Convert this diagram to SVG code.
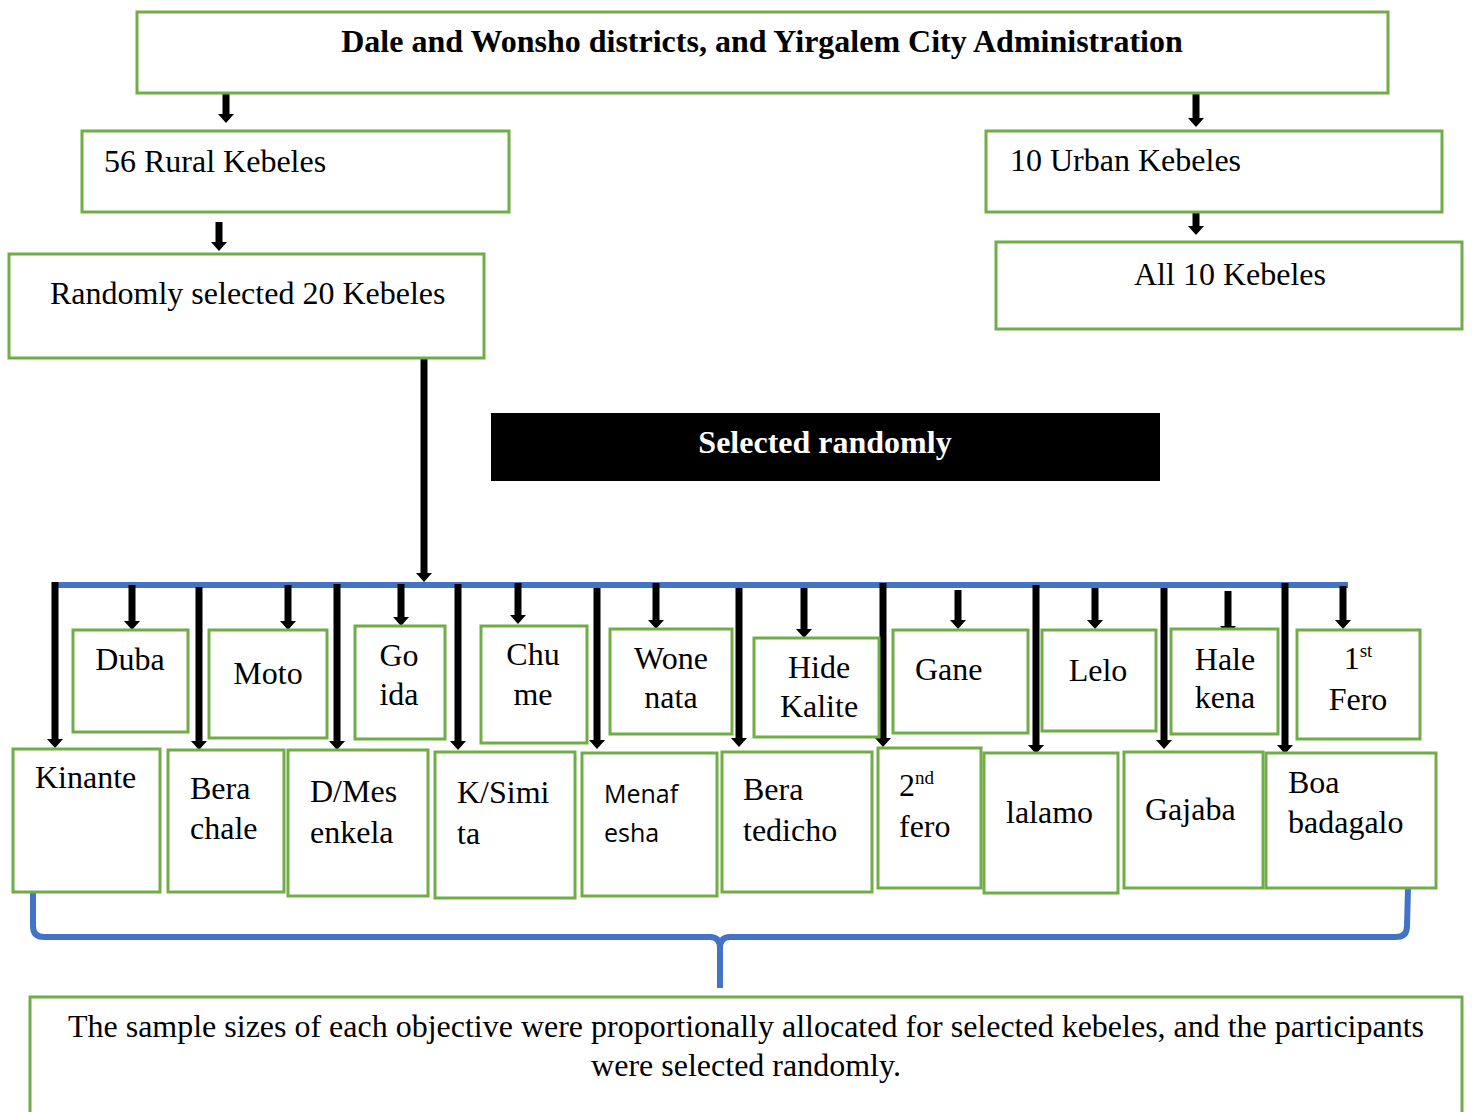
<svg xmlns="http://www.w3.org/2000/svg" width="1472" height="1112" viewBox="0 0 1472 1112">
<defs>
<marker id="ah" viewBox="0 -8 9 16" refX="0" refY="0" markerWidth="9" markerHeight="16" markerUnits="userSpaceOnUse" orient="auto">
<path d="M0,-8 L9,0 L0,8 Z" fill="#000"/>
</marker>
<style>
.box{fill:#fff;stroke:#70AD47;stroke-width:3}
.t{font-family:"Liberation Serif","Times New Roman",serif;font-size:32px;fill:#000}
.tb{font-family:"Liberation Serif","Times New Roman",serif;font-size:32px;font-weight:bold}
.s{font-family:"Open Sans","Noto Sans",sans-serif;font-size:25px;fill:#000}
.c{text-anchor:middle}
.ar{stroke:#000;stroke-width:7;fill:none;marker-end:url(#ah)}
.blue{stroke:#4472C4;fill:none}
</style>
</defs>
<rect width="1472" height="1112" fill="#fff"/>

<g id="connectors">
<line class="ar" x1="226" y1="93" x2="226" y2="114"/>
<line class="ar" x1="1196" y1="93" x2="1196" y2="118"/>
<line class="ar" x1="219" y1="222" x2="219" y2="242"/>
<line class="ar" x1="1196" y1="212" x2="1196" y2="226"/>
<line class="ar" x1="424" y1="357" x2="424" y2="573"/>
<line class="blue" x1="52" y1="585" x2="1348" y2="585" stroke-width="6"/>
<line class="ar" x1="55" y1="582" x2="55" y2="739"/>
<line class="ar" x1="199" y1="587" x2="199" y2="741"/>
<line class="ar" x1="337" y1="584" x2="337" y2="741"/>
<line class="ar" x1="458" y1="584" x2="458" y2="741"/>
<line class="ar" x1="597" y1="588" x2="597" y2="740"/>
<line class="ar" x1="739" y1="588" x2="739" y2="738"/>
<line class="ar" x1="883" y1="583" x2="883" y2="738"/>
<line class="ar" x1="1036" y1="585" x2="1036" y2="745"/>
<line class="ar" x1="1164" y1="588" x2="1164" y2="740"/>
<line class="ar" x1="1285" y1="583" x2="1285" y2="745"/>
<line class="ar" x1="132" y1="585" x2="132" y2="621"/>
<line class="ar" x1="288" y1="585" x2="288" y2="621"/>
<line class="ar" x1="401" y1="584" x2="401" y2="617"/>
<line class="ar" x1="518" y1="583" x2="518" y2="615"/>
<line class="ar" x1="656" y1="583" x2="656" y2="620"/>
<line class="ar" x1="804" y1="588" x2="804" y2="629"/>
<line class="ar" x1="958" y1="590" x2="958" y2="620"/>
<line class="ar" x1="1095" y1="588" x2="1095" y2="620"/>
<line class="ar" x1="1228" y1="591" x2="1228" y2="626"/>
<line class="ar" x1="1343" y1="586" x2="1343" y2="620"/>
<path class="blue" stroke-width="6" d="M33,890 L33,926 Q33,937 44,937 L710,937 Q720,937 720,948 L720,988 M720,988 L720,948 Q720,937 730,937 L1396,937 Q1407,937 1407,926 L1408,888"/>
</g>

<g id="top">
<rect class="box" x="137" y="12" width="1251" height="81"/>
<text class="tb c" x="762" y="52">Dale and Wonsho districts, and Yirgalem City Administration</text>
</g>
<g id="rural">
<rect class="box" x="82" y="131" width="427" height="81"/>
<text class="t" x="104" y="172">56 Rural Kebeles</text>
</g>
<g id="random20">
<rect class="box" x="9" y="254" width="475" height="104"/>
<text class="t" x="50" y="304">Randomly selected 20 Kebeles</text>
</g>
<g id="urban">
<rect class="box" x="986" y="131" width="456" height="81"/>
<text class="t" x="1010" y="171">10 Urban Kebeles</text>
</g>
<g id="all10">
<rect class="box" x="996" y="242" width="466" height="87"/>
<text class="t" x="1134" y="285">All 10 Kebeles</text>
</g>
<g id="selected">
<rect x="491" y="413" width="669" height="68" fill="#000"/>
<text class="tb c" x="825" y="453" fill="#fff">Selected randomly</text>
</g>

<g id="duba"><rect class="box" x="73" y="630" width="115" height="102"/><text class="t c" x="130" y="670">Duba</text></g>
<g id="moto"><rect class="box" x="209" y="630" width="118" height="108"/><text class="t c" x="268" y="684">Moto</text></g>
<g id="goida"><rect class="box" x="355" y="626" width="90" height="113"/><text class="t c" x="399" y="666">Go</text><text class="t c" x="399" y="705">ida</text></g>
<g id="chume"><rect class="box" x="481" y="626" width="106" height="117"/><text class="t c" x="533" y="665">Chu</text><text class="t c" x="533" y="705">me</text></g>
<g id="wonenata"><rect class="box" x="610" y="629" width="122" height="105"/><text class="t c" x="671" y="669">Wone</text><text class="t c" x="671" y="708">nata</text></g>
<g id="hidekalite"><rect class="box" x="754" y="638" width="125" height="99"/><text class="t c" x="819" y="678">Hide</text><text class="t c" x="819" y="717">Kalite</text></g>
<g id="gane"><rect class="box" x="893" y="630" width="135" height="103"/><text class="t" x="915" y="680">Gane</text></g>
<g id="lelo"><rect class="box" x="1042" y="630" width="114" height="101"/><text class="t c" x="1098" y="681">Lelo</text></g>
<g id="halekena"><rect class="box" x="1171" y="629" width="107" height="105"/><text class="t c" x="1225" y="670">Hale</text><text class="t c" x="1225" y="708">kena</text></g>
<g id="firstfero"><rect class="box" x="1297" y="630" width="123" height="109"/><text class="t c" x="1358" y="669">1<tspan font-size="19" dy="-12">st</tspan></text><text class="t c" x="1358" y="710">Fero</text></g>

<g id="kinante"><rect class="box" x="13" y="749" width="147" height="143"/><text class="t" x="35" y="788">Kinante</text></g>
<g id="berachale"><rect class="box" x="168" y="750" width="116" height="142"/><text class="t" x="190" y="799">Bera</text><text class="t" x="190" y="839">chale</text></g>
<g id="dmesenkela"><rect class="box" x="288" y="750" width="140" height="146"/><text class="t" x="310" y="802">D/Mes</text><text class="t" x="310" y="843">enkela</text></g>
<g id="ksimita"><rect class="box" x="435" y="752" width="140" height="146"/><text class="t" x="457" y="803">K/Simi</text><text class="t" x="457" y="844">ta</text></g>
<g id="menafesha"><rect class="box" x="582" y="753" width="135" height="143"/><text class="s" x="604" y="803">Menaf</text><text class="s" x="604" y="842">esha</text></g>
<g id="beratedicho"><rect class="box" x="722" y="752" width="150" height="140"/><text class="t" x="743" y="800">Bera</text><text class="t" x="743" y="841">tedicho</text></g>
<g id="secondfero"><rect class="box" x="878" y="748" width="103" height="140"/><text class="t" x="899" y="796">2<tspan font-size="19" dy="-12">nd</tspan></text><text class="t" x="899" y="837">fero</text></g>
<g id="lalamo"><rect class="box" x="984" y="753" width="134" height="140"/><text class="t" x="1006" y="823">lalamo</text></g>
<g id="gajaba"><rect class="box" x="1124" y="752" width="139" height="136"/><text class="t" x="1145" y="820">Gajaba</text></g>
<g id="boabadagalo"><rect class="box" x="1266" y="753" width="170" height="135"/><text class="t" x="1288" y="793">Boa</text><text class="t" x="1288" y="833">badagalo</text></g>

<g id="summary">
<rect class="box" x="30" y="997" width="1432" height="130"/>
<text class="t c" x="746" y="1037" textLength="1356" lengthAdjust="spacing">The sample sizes of each objective were proportionally allocated for selected kebeles, and the participants</text>
<text class="t c" x="746" y="1076">were selected randomly.</text>
</g>
</svg>
